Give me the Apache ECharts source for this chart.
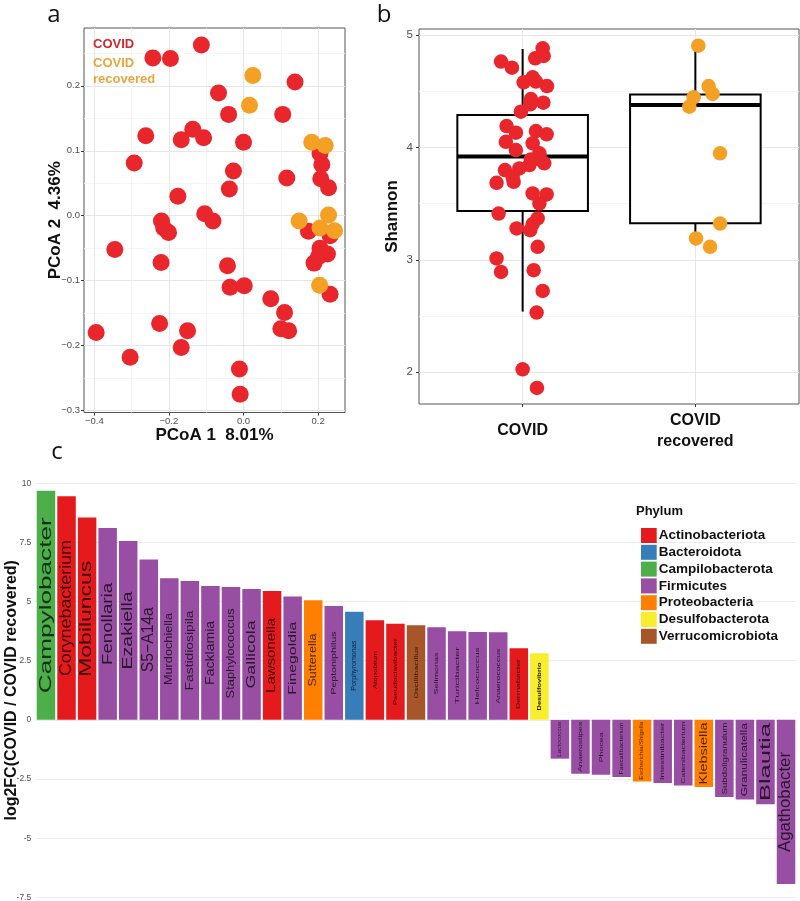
<!DOCTYPE html>
<html>
<head>
<meta charset="utf-8">
<script src="https://cdn.jsdelivr.net/npm/echarts@6/dist/echarts.min.js"></script>
<style>html,body{margin:0;padding:0;background:#fff}#chart{width:800px;height:901px}</style>
</head>
<body>
<div id="chart"></div>
<script>
// ---------- Panel a: PCoA ----------
const pcoaCovidX = [-0.113,-0.243,-0.196,0.138,-0.067,-0.040,0.105,-0.262,-0.136,-0.167,-0.107,0.000,-0.293,-0.027,0.116,-0.038,-0.176,-0.104,-0.082,-0.220,-0.214,-0.201,-0.345,-0.221,-0.043,-0.036,0.002,0.073,0.110,0.100,0.121,-0.225,-0.150,-0.167,-0.395,-0.304,-0.011,-0.009,0.205,0.210,0.207,0.228,0.174,0.232,0.205,0.225,0.189,0.232,0.201];
const pcoaCovidY = [0.263,0.243,0.242,0.206,0.189,0.156,0.156,0.123,0.133,0.117,0.120,0.113,0.081,0.069,0.058,0.041,0.030,0.003,-0.008,-0.008,-0.019,-0.026,-0.052,-0.072,-0.077,-0.110,-0.108,-0.128,-0.149,-0.174,-0.177,-0.166,-0.177,-0.203,-0.180,-0.218,-0.236,-0.275,0.096,0.079,0.057,0.043,-0.024,-0.031,-0.050,-0.059,-0.073,-0.121,-0.063];
const pcoaRecX = [0.025,0.016,0.183,0.219,0.149,0.228,0.205,0.244,0.204];
const pcoaRecY = [0.216,0.170,0.113,0.108,-0.008,0.001,-0.019,-0.023,-0.107];
const pcoaXTicks = [-0.4,-0.2,0,0.2];
const pcoaXMinor = [-0.3,-0.1,0.1];
const pcoaYTicks = [-0.3,-0.2,-0.1,0,0.1,0.2];
const pcoaYMinor = [-0.25,-0.15,-0.05,0.05,0.15,0.25];

// ---------- Panel b: Shannon ----------
const groups = ['COVID','COVID recovered'];
const shannonCovidX = [0.875,0.938,1.116,1.073,1.122,1.006,1.058,1.077,1.141,1.048,1.044,1.120,0.990,0.907,0.961,0.903,0.961,1.077,1.139,1.058,1.097,1.106,1.125,1.048,1.039,0.898,0.981,0.948,0.942,0.849,1.058,1.139,1.097,0.861,1.087,1.058,0.965,1.044,1.087,0.849,0.875,1.064,1.116,1.081,1.000,1.083];
const shannonCovid = [4.763,4.709,4.881,4.792,4.813,4.579,4.623,4.585,4.546,4.430,4.383,4.398,4.318,4.190,4.131,4.050,3.976,4.145,4.116,4.036,3.947,3.887,3.858,3.893,3.843,3.798,3.813,3.694,3.739,3.685,3.591,3.582,3.501,3.412,3.368,3.318,3.279,3.264,3.116,3.012,2.893,2.908,2.724,2.531,2.027,1.861];
const shannonRecX = [2.017,2.077,2.100,1.990,1.965,2.143,2.143,2.004,2.085];
const shannonRec = [4.905,4.546,4.475,4.445,4.362,3.947,3.323,3.190,3.116];
// [lower whisker, Q1, median, Q3, upper whisker]
const boxStats = [[2.54,3.434,3.92,4.288,4.875],[3.13,3.325,4.377,4.47,4.896]];
const shannonTicks = [2,3,4,5];
const shannonMinor = [2.5,3.5,4.5];

// ---------- Panel c: log2FC ----------
const genera = ['Campylobacter','Corynebacterium','Mobiluncus','Fenollaria','Ezakiella','S5\u2212A14a','Murdochiella','Fastidiosipila','Facklamia','Staphylococcus','Gallicola','Lawsonella','Finegoldia','Sutterella','Peptoniphilus','Porphyromonas','Atopobium','Pseudoclavibacter','Oscillibacillus','Selimonas','Turicibacter','Helcococcus','Anaerococcus','Dermabacter','Desulfovibrio','Lactococcus','Anaerostipes','Phocea','Faecalibacterium','Escherichia/Shigella','Intestinibacter','Catenibacterium','Klebsiella','Subdoligranulum','Granulicatella','Blautia','Agathobacter'];
const log2fc = [9.69,9.45,8.55,8.11,7.56,6.78,5.99,5.87,5.66,5.62,5.53,5.45,5.21,5.06,4.81,4.57,4.21,4.06,4.00,3.92,3.75,3.71,3.70,3.03,2.82,-1.64,-2.28,-2.32,-2.42,-2.60,-2.67,-2.77,-2.84,-3.26,-3.37,-3.57,-6.94];
const phylumOf = ['Campilobacterota','Actinobacteriota','Actinobacteriota','Firmicutes','Firmicutes','Firmicutes','Firmicutes','Firmicutes','Firmicutes','Firmicutes','Firmicutes','Actinobacteriota','Firmicutes','Proteobacteria','Firmicutes','Bacteroidota','Actinobacteriota','Actinobacteriota','Verrucomicrobiota','Firmicutes','Firmicutes','Firmicutes','Firmicutes','Actinobacteriota','Desulfobacterota','Firmicutes','Firmicutes','Firmicutes','Firmicutes','Proteobacteria','Firmicutes','Firmicutes','Proteobacteria','Firmicutes','Firmicutes','Firmicutes','Firmicutes'];
const phyla = ['Actinobacteriota','Bacteroidota','Campilobacterota','Firmicutes','Proteobacteria','Desulfobacterota','Verrucomicrobiota'];
const lfcTicksInterval = 2.5;

// ---------- styles ----------
const phylumColors = {Actinobacteriota:'#E41A1C',Bacteroidota:'#377EB8',Campilobacterota:'#4DAF4A',Firmicutes:'#984EA3',Proteobacteria:'#FF7F00',Desulfobacterota:'#F8EE2E',Verrucomicrobiota:'#A65628'};
const labelFont = [17,17,16,15,15,16,10,10,12,11,13,12,11,11,8,7,6,6,6,6,6,6,6,5.5,6,5.5,5.5,6,5,5,5.5,6,11,8,9,15,16];
const labelLen = [176,136,116,82,78,65,72,80,64,90,68,75,73,53,63,50,38,67,52,42,57,57,55,50,48,35,50,30,52,58,57,62,62,72,73,78,100];
const labelBold = genera.map(g => g === 'Desulfovibrio');
const RED = '#E8262B', ORANGE = '#F4A024';
const FONT = '"Liberation Sans", Arial, sans-serif';

const measureCtx = document.createElement('canvas').getContext('2d');
function textWidth(t, fs, bold) {
  measureCtx.font = (bold ? 'bold ' : '') + fs + 'px "Liberation Sans"';
  return measureCtx.measureText(t).width;
}
const minus = v => (v < 0 ? '\u2212' : '') + Math.abs(v).toFixed(1);

const chart = echarts.init(document.getElementById('chart'), null, {renderer: 'canvas'});

const gridLine = {show: true, lineStyle: {color: '#e6e6e6', width: 1}};
const minorLine = {show: true, lineStyle: {color: '#f3f3f3', width: 0.8}};
const tickStyle = {show: true, length: 3, lineStyle: {color: '#333', width: 1}};
const noLine = {show: false, onZero: false};

const option = {
  backgroundColor: '#fff',
  animation: false,
  graphic: [
    {type: 'text', x: 54, y: 15, style: {text: 'a', font: '24px "Open Sans", sans-serif', fill: '#111', align: 'center', verticalAlign: 'middle'}},
    {type: 'text', x: 384, y: 15, style: {text: 'b', font: '24px "Open Sans", sans-serif', fill: '#111', align: 'center', verticalAlign: 'middle'}},
    {type: 'text', x: 57, y: 452, style: {text: 'c', font: '24px "Open Sans", sans-serif', fill: '#111', align: 'center', verticalAlign: 'middle'}},
    {type: 'text', x: 636, y: 511, style: {text: 'Phylum', font: 'bold 13px "Liberation Sans"', fill: '#111', align: 'left', verticalAlign: 'middle'}}
  ],
  legend: [
    {
      data: [{name: 'COVID', textStyle: {color: '#D3292E'}}, {name: 'COVID recovered', textStyle: {color: '#E9A53E'}}],
      orient: 'vertical', left: 83, top: 31, icon: 'none', itemWidth: 0, itemHeight: 10, itemGap: 3.5,
      formatter: n => n === 'COVID recovered' ? 'COVID\nrecovered' : n,
      textStyle: {fontSize: 13, fontWeight: 'bold', lineHeight: 16, fontFamily: FONT},
      selectedMode: false
    },
    {
      data: phyla, orient: 'vertical', left: 636, top: 523, icon: 'rect',
      itemWidth: 15.7, itemHeight: 15, itemGap: 1.8,
      textStyle: {fontSize: 13.5, fontWeight: 'bold', color: '#111', fontFamily: FONT, padding: [0,0,0,-3]},
      selectedMode: false
    }
  ],
  grid: [
    {left: 84, top: 28, width: 261, height: 384.5, show: true, borderColor: '#555', borderWidth: 1, backgroundColor: 'transparent', outerBoundsMode: 'none', containLabel: false},
    {left: 419, top: 29, width: 380, height: 375, show: true, borderColor: '#555', borderWidth: 1, backgroundColor: 'transparent', outerBoundsMode: 'none', containLabel: false},
    {left: 35.7, width: 760.6, top: 483.3, height: 414, outerBoundsMode: 'none', containLabel: false}
  ],
  xAxis: [
    {gridIndex: 0, type: 'value', min: -0.4276, max: 0.272, position: 'bottom',
     name: 'PCoA 1  8.01%', nameLocation: 'middle', nameGap: 14, nameMoveOverlap: false,
     nameTextStyle: {fontSize: 17, fontWeight: 'bold', color: '#111', fontFamily: FONT, verticalAlign: 'top'},
     axisLine: noLine, axisTick: Object.assign({customValues: pcoaXTicks}, tickStyle),
     axisLabel: {customValues: pcoaXTicks, formatter: minus, fontSize: 9.5, color: '#4d4d4d', margin: 4, fontFamily: FONT},
     splitLine: gridLine},
    {gridIndex: 0, type: 'value', min: -0.4276, max: 0.272, position: 'top',
     axisLine: noLine, axisTick: {show: false, customValues: pcoaXMinor}, axisLabel: {show: false}, splitLine: minorLine},
    {gridIndex: 1, type: 'value', min: 0.4, max: 2.6, position: 'bottom',
     axisLine: noLine, axisTick: Object.assign({customValues: [1,2]}, tickStyle),
     axisLabel: {customValues: [1,2], formatter: v => Math.round(v) === 1 ? 'COVID' : 'COVID\nrecovered',
                 fontSize: 16, fontWeight: 'bold', color: '#111', lineHeight: 21, verticalAlign: 'middle', margin: 27, fontFamily: FONT},
     splitLine: gridLine},
    {gridIndex: 2, type: 'category', data: genera, axisLine: noLine, axisTick: {show: false}, axisLabel: {show: false}, splitLine: {show: false}}
  ],
  yAxis: [
    {gridIndex: 0, type: 'value', min: -0.303, max: 0.289, position: 'left',
     name: 'PCoA 2  4.36%', nameLocation: 'middle', nameGap: 20, nameMoveOverlap: false,
     nameTextStyle: {fontSize: 17, fontWeight: 'bold', color: '#111', fontFamily: FONT},
     axisLine: noLine, axisTick: Object.assign({customValues: pcoaYTicks}, tickStyle),
     axisLabel: {customValues: pcoaYTicks, formatter: minus, fontSize: 9.5, color: '#4d4d4d', margin: 4, fontFamily: FONT},
     splitLine: gridLine},
    {gridIndex: 0, type: 'value', min: -0.303, max: 0.289, position: 'right',
     axisLine: noLine, axisTick: {show: false, customValues: pcoaYMinor}, axisLabel: {show: false}, splitLine: minorLine},
    {gridIndex: 1, type: 'value', min: 1.718, max: 5.053, position: 'left',
     name: 'Shannon', nameLocation: 'middle', nameGap: 18, nameMoveOverlap: false,
     nameTextStyle: {fontSize: 17, fontWeight: 'bold', color: '#111', fontFamily: FONT},
     axisLine: noLine, axisTick: Object.assign({customValues: shannonTicks}, tickStyle),
     axisLabel: {customValues: shannonTicks, fontSize: 11.5, color: '#4d4d4d', margin: 6, fontFamily: FONT},
     splitLine: gridLine},
    {gridIndex: 1, type: 'value', min: 1.718, max: 5.053, position: 'right',
     axisLine: noLine, axisTick: {show: false, customValues: shannonMinor}, axisLabel: {show: false}, splitLine: minorLine},
    {gridIndex: 2, type: 'value', min: -7.5, max: 10, interval: lfcTicksInterval,
     name: 'log2FC(COVID / COVID recovered)', nameLocation: 'middle', nameGap: 16, nameMoveOverlap: false,
     nameTextStyle: {fontSize: 16, fontWeight: 'bold', color: '#111', fontFamily: FONT},
     axisLine: noLine, axisTick: {show: false},
     axisLabel: {fontSize: 8.5, color: '#4d4d4d', margin: 4.5, fontFamily: FONT},
     splitLine: {show: true, lineStyle: {color: '#ececec', width: 1}}}
  ],
  series: []
};

// panel a scatter
option.series.push({name: 'COVID', type: 'scatter', xAxisIndex: 0, yAxisIndex: 0, symbolSize: 17,
  itemStyle: {color: RED, opacity: 1}, data: pcoaCovidX.map((x, i) => [x, pcoaCovidY[i]]), z: 3});
option.series.push({name: 'COVID recovered', type: 'scatter', xAxisIndex: 0, yAxisIndex: 0, symbolSize: 17,
  itemStyle: {color: ORANGE, opacity: 1}, data: pcoaRecX.map((x, i) => [x, pcoaRecY[i]]), z: 3});

// panel b boxes
option.series.push({
  name: 'box', type: 'custom', xAxisIndex: 2, yAxisIndex: 2, z: 2,
  data: boxStats.map((s, i) => [i + 1].concat(s)),
  renderItem: function (params, api) {
    const x = api.value(0), lo = api.value(1), q1 = api.value(2), med = api.value(3), q3 = api.value(4), hi = api.value(5);
    const hw = 0.378;
    const pL = api.coord([x - hw, q3]), pR = api.coord([x + hw, q1]);
    const pm = api.coord([x, med]);
    const pLo = api.coord([x, lo]), pHi = api.coord([x, hi]), pQ1 = api.coord([x, q1]), pQ3 = api.coord([x, q3]);
    const st = {stroke: '#000', lineWidth: 2, fill: null};
    return {type: 'group', children: [
      {type: 'line', shape: {x1: pHi[0], y1: pHi[1], x2: pQ3[0], y2: pQ3[1]}, style: st},
      {type: 'line', shape: {x1: pLo[0], y1: pLo[1], x2: pQ1[0], y2: pQ1[1]}, style: st},
      {type: 'rect', shape: {x: pL[0], y: pL[1], width: pR[0] - pL[0], height: pR[1] - pL[1]}, style: {stroke: '#000', lineWidth: 2, fill: '#fff'}},
      {type: 'line', shape: {x1: pL[0], y1: pm[1], x2: pR[0], y2: pm[1]}, style: {stroke: '#000', lineWidth: 4}}
    ]};
  }
});
option.series.push({name: 'COVID', type: 'scatter', xAxisIndex: 2, yAxisIndex: 2, symbolSize: 14.5, z: 3,
  itemStyle: {color: RED, opacity: 1}, data: shannonCovidX.map((x, i) => [x, shannonCovid[i]])});
option.series.push({name: 'COVID recovered', type: 'scatter', xAxisIndex: 2, yAxisIndex: 2, symbolSize: 14.5, z: 3,
  itemStyle: {color: ORANGE, opacity: 1}, data: shannonRecX.map((x, i) => [x, shannonRec[i]])});

// panel c bars, one series per phylum stacked into the same slot
phyla.forEach(p => {
  option.series.push({
    name: p, type: 'bar', xAxisIndex: 3, yAxisIndex: 4, stack: 'lfc', barWidth: '90%',
    itemStyle: {color: phylumColors[p]},
    data: log2fc.map((v, i) => phylumOf[i] === p ? v : '-')
  });
});
// labels inside bars
option.series.push({
  name: 'labels', type: 'custom', xAxisIndex: 3, yAxisIndex: 4, z: 10, silent: true,
  data: log2fc.map((v, i) => [i, v]),
  renderItem: function (params, api) {
    const i = api.value(0), v = api.value(1);
    const c = api.coord([i, v / 2]);
    const fs = labelFont[i], bold = labelBold[i];
    const sx = labelLen[i] / textWidth(genera[i], fs, bold);
    return {type: 'text', x: c[0], y: c[1], rotation: Math.PI / 2, scaleX: sx, scaleY: 1,
      style: {text: genera[i], fontSize: fs, fontWeight: bold ? 'bold' : 'normal', fontFamily: 'Liberation Sans',
              fill: bold ? 'rgba(0,0,0,0.9)' : 'rgba(0,0,0,0.72)', align: 'center', verticalAlign: 'middle'}};
  }
});

chart.setOption(option);
</script>
</body>
</html>
